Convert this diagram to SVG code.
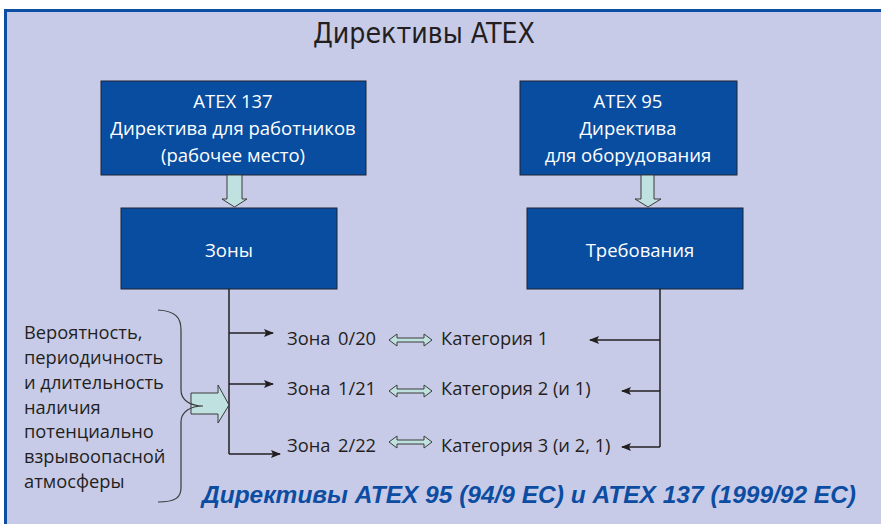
<svg xmlns="http://www.w3.org/2000/svg" width="881" height="524" viewBox="0 0 881 524">
<defs>
<style>
.box{fill:#084d9f;stroke:#1d2233;stroke-width:1}
.bt{font-family:"Open Sans","Noto Sans",sans-serif;font-size:18.5px;fill:#ffffff;text-anchor:middle}
.t{font-family:"Open Sans","Noto Sans",sans-serif;font-size:18.3px;fill:#231f20}
.ln{fill:none;stroke:#231f20;stroke-width:1.5}
.blk{fill:#bfe2e0;stroke:#3a3a3a;stroke-width:1}
</style>
<marker id="ah" markerWidth="10" markerHeight="8" refX="9" refY="4" orient="auto" markerUnits="userSpaceOnUse">
<path d="M0,0 L10,4 L0,8 L2,4 Z" fill="#231f20"/>
</marker>
</defs>
<rect x="0" y="0" width="881" height="524" fill="#ffffff"/>
<rect x="4" y="9" width="877" height="515" fill="#c8cbe8"/>
<rect x="4" y="9" width="877" height="3" fill="#0b4ea2"/>
<rect x="4" y="9" width="3" height="515" fill="#0b4ea2"/>

<text x="424" y="43" text-anchor="middle" font-family="'Liberation Sans Narrow','DejaVu Sans Condensed','Liberation Sans',sans-serif" font-size="28" fill="#231f20" textLength="222" lengthAdjust="spacingAndGlyphs">Директивы ATEX</text>

<g id="atex137">
<rect class="box" x="101" y="81" width="265" height="94"/>
<text class="bt" x="233" y="108">ATEX 137</text>
<text class="bt" x="233" y="135">Директива для работников</text>
<text class="bt" x="233" y="162">(рабочее место)</text>
</g>
<g id="atex95">
<rect class="box" x="520" y="81" width="217" height="94"/>
<text class="bt" x="628" y="108">ATEX 95</text>
<text class="bt" x="628" y="135">Директива</text>
<text class="bt" x="628" y="162">для оборудования</text>
</g>
<g id="zones">
<rect class="box" x="121" y="208" width="216" height="81"/>
<text class="bt" x="229" y="257">Зоны</text>
</g>
<g id="req">
<rect class="box" x="527" y="208" width="216" height="81"/>
<text class="bt" x="640" y="257">Требования</text>
</g>

<g id="connectors">
<path class="blk" d="M227,175 H242 V199 H247 L234.5,207 L222,199 H227 Z"/>
<path class="blk" d="M641,175 H654 V199 H661 L648,207 L635,199 H641 Z"/>
<path class="ln" d="M229,289 V454"/>
<path class="ln" d="M229,333 H273" marker-end="url(#ah)"/>
<path class="ln" d="M229,384 H273" marker-end="url(#ah)"/>
<path class="ln" d="M229,454 H280" marker-end="url(#ah)"/>
<path class="ln" d="M660,289 V447"/>
<path class="ln" d="M660,340 H590" marker-end="url(#ah)"/>
<path class="ln" d="M660,391 H622" marker-end="url(#ah)"/>
<path class="ln" d="M660,447 H622" marker-end="url(#ah)"/>
<path class="blk" d="M389,340 L397,334 V338 H424 V334 L432,340 L424,346 V342 H397 V346 Z"/>
<path class="blk" d="M389,391 L397,385 V389 H424 V385 L432,391 L424,397 V393 H397 V397 Z"/>
<path class="blk" d="M389,442 L397,436 V440 H424 V436 L432,442 L424,448 V444 H397 V448 Z"/>
<path class="blk" d="M191,393 H218 V385 L229,405 L218,423 V414 H191 Z"/>
<path fill="none" stroke="#3a3a3a" stroke-width="1.2" d="M158,310 C176,311 181,318 181,330 V390 C181,400 190,406 203,406 C190,406 181,412 181,422 V488 C181,497 176,502 158,502"/>
</g>

<g id="zone-texts">
<text class="t" x="287" y="345">Зона <tspan x="338">0/20</tspan></text>
<text class="t" x="287" y="395">Зона <tspan x="338">1/21</tspan></text>
<text class="t" x="287" y="452">Зона <tspan x="338">2/22</tspan></text>
<text class="t" x="441" y="345">Категория 1</text>
<text class="t" x="441" y="395">Категория 2 (и 1)</text>
<text class="t" x="441" y="452">Категория 3 (и 2, 1)</text>
</g>

<g id="left-text">
<text class="t" x="24" y="339">Вероятность,</text>
<text class="t" x="24" y="364">периодичность</text>
<text class="t" x="24" y="389">и длительность</text>
<text class="t" x="24" y="414">наличия</text>
<text class="t" x="24" y="438">потенциально</text>
<text class="t" x="24" y="463">взрывоопасной</text>
<text class="t" x="24" y="488">атмосферы</text>
</g>

<text x="202" y="503" font-family="'Liberation Sans','Open Sans',sans-serif" font-size="23" font-weight="bold" font-style="italic" fill="#0c4da2" textLength="654" lengthAdjust="spacingAndGlyphs">Директивы ATEX 95 (94/9 EC) и ATEX 137 (1999/92 EC)</text>
</svg>
